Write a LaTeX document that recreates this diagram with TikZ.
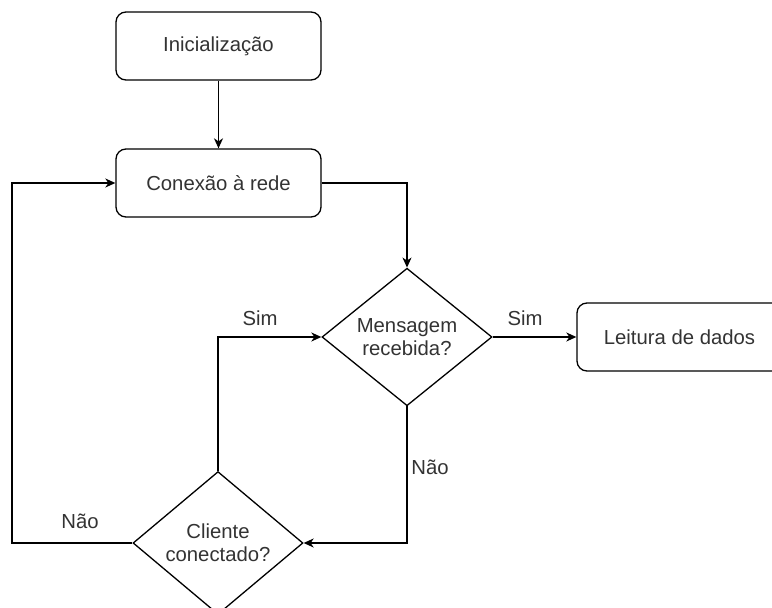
\documentclass[tikz,border=0pt]{standalone}
\usepackage{fontspec}
\setmainfont{Liberation Sans}
\usetikzlibrary{shapes.geometric,arrows.meta}
\definecolor{ink}{HTML}{333333}
\tikzset{
  every node/.style={font=\fontsize{20.3}{23}\selectfont, text=ink},
  procbox/.style={draw=black, line width=1.3pt, rounded corners=10pt,
    minimum width=205pt, minimum height=68pt, inner sep=0pt},
  decision/.style={draw=black, line width=1.3pt, shape=diamond, inner sep=0pt,
    minimum width=170pt, minimum height=137pt, align=center},
  flow/.style={draw=black, line width=1.3pt,
    -{Stealth[length=10pt, width=9pt, inset=3pt]}},
  edgelabel/.style={inner sep=0pt}
}
\begin{document}
\begin{tikzpicture}[x=1pt, y=-1pt]
  \clip (0,0) rectangle (772,608);
  \fill[white] (0,0) rectangle (772,608);

  % process steps
  \node[procbox] (init) at (218.5,46) {Inicialização};
  \node[procbox] (rede) at (218.5,183) {Conexão à rede};
  \node[procbox] (leitura) at (679.5,337) {Leitura de dados};

  % decisions
  \node[decision] (msg) at (407,337) {Mensagem\\recebida?};
  \node[decision] (cli) at (218,543) {Cliente\\conectado?};

  % bends of the connectors
  \coordinate (c1) at (msg.north |- rede.east);
  \coordinate (c2) at (msg.south |- cli.east);
  \coordinate (c3) at (cli.north |- msg.west);
  \coordinate (c4) at (12,543);
  \coordinate (c5) at (12,183);

  % connectors
  \draw[flow] (init) -- (rede);
  \draw[flow] (rede.east) -- (c1) -- (msg.north);
  \draw[flow] (msg.east) -- (leitura.west);
  \draw[flow] (msg.south) -- (c2) -- (cli.east);
  \draw[flow] (cli.north) -- (c3) -- (msg.west);
  \draw[flow] (cli.west) -- (c4) -- (c5) -- (rede.west);

  % connector labels
  \node[edgelabel] (l1) at (525,318) {Sim};
  \node[edgelabel] (l2) at (260,318) {Sim};
  \node[edgelabel] (l3) at (430,467) {Não};
  \node[edgelabel] (l4) at (80,521) {Não};
\end{tikzpicture}
\end{document}
